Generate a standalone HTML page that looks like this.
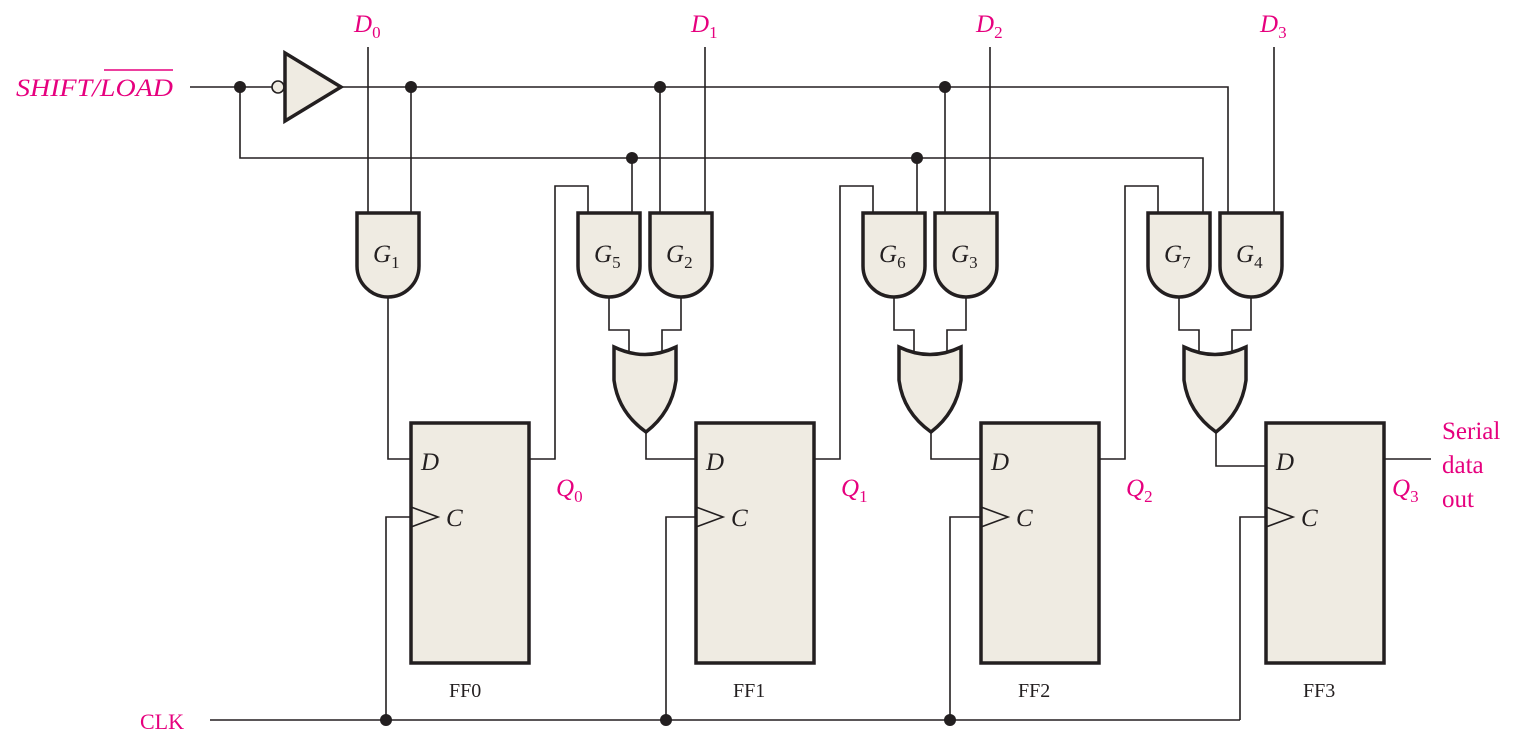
<!DOCTYPE html>
<html><head><style>body{margin:0;background:#fff}svg{display:block}</style></head><body>
<svg width="1531" height="742" viewBox="0 0 1531 742" xmlns="http://www.w3.org/2000/svg">
<defs>
<g id="and"><path d="M0,213 H62 V266 A31,31 0 0 1 0,266 Z" fill="#efebe2" stroke="#231f20" stroke-width="3.5"/></g>
</defs>
<g stroke="#231f20" stroke-width="1.6" fill="none">
<line x1="190" y1="87" x2="272" y2="87"/>
<polyline points="340,87 1228,87 1228,213"/>
<polyline points="240,87 240,158 1203,158 1203,213"/>
<line x1="368" y1="47" x2="368" y2="213"/>
<line x1="705" y1="47" x2="705" y2="213"/>
<line x1="990" y1="47" x2="990" y2="213"/>
<line x1="1274" y1="47" x2="1274" y2="213"/>
<line x1="411" y1="87" x2="411" y2="213"/>
<polyline points="388,297 388,459 411,459"/>
<line x1="660" y1="87" x2="660" y2="213"/>
<line x1="945" y1="87" x2="945" y2="213"/>
<line x1="632" y1="158" x2="632" y2="213"/>
<line x1="917" y1="158" x2="917" y2="213"/>
<polyline points="529,459 555,459 555,186 588,186 588,213"/>
<polyline points="814,459 840,459 840,186 873,186 873,213"/>
<polyline points="1099,459 1125,459 1125,186 1158,186 1158,213"/>
<line x1="1383" y1="459" x2="1431" y2="459"/>
<polyline points="609,297 609,330 629,330 629,355"/>
<polyline points="681,297 681,330 662,330 662,355"/>
<polyline points="894,297 894,330 914,330 914,355"/>
<polyline points="966,297 966,330 947,330 947,355"/>
<polyline points="1179,297 1179,330 1199,330 1199,355"/>
<polyline points="1251,297 1251,330 1232,330 1232,355"/>
<polyline points="646,430 646,459 696,459"/>
<polyline points="931,430 931,459 981,459"/>
<polyline points="1216,430 1216,466 1266,466"/>
<line x1="210" y1="720" x2="1240" y2="720"/>
<polyline points="386,720 386,517 411,517"/>
<polyline points="666,720 666,517 696,517"/>
<polyline points="950,720 950,517 981,517"/>
<polyline points="1240,720 1240,517 1266,517"/>
</g>
<circle cx="278" cy="87" r="6" fill="#efebe2" stroke="#231f20" stroke-width="1.6"/>
<path d="M285,53 L341,87 L285,121 Z" fill="#efebe2" stroke="#231f20" stroke-width="3.5"/>
<use href="#and" x="357"/>
<use href="#and" x="578"/><use href="#and" x="650"/>
<use href="#and" x="863"/><use href="#and" x="935"/>
<use href="#and" x="1148"/><use href="#and" x="1220"/>
<g fill="#efebe2" stroke="#231f20" stroke-width="3.5">
<path d="M614,347 Q645,362 676,347 L676,380 Q672,412 646,432 Q618,412 614,380 Z"/>
<path d="M899,347 Q930,362 961,347 L961,380 Q957,412 931,432 Q903,412 899,380 Z"/>
<path d="M1184,347 Q1215,362 1246,347 L1246,380 Q1242,412 1216,432 Q1188,412 1184,380 Z"/>
<rect x="411" y="423" width="118" height="240"/>
<rect x="696" y="423" width="118" height="240"/>
<rect x="981" y="423" width="118" height="240"/>
<rect x="1266" y="423" width="118" height="240"/>
</g>
<g fill="none" stroke="#231f20" stroke-width="1.6">
<polyline points="411,507 438,517 411,527"/>
<polyline points="696,507 723,517 696,527"/>
<polyline points="981,507 1008,517 981,527"/>
<polyline points="1266,507 1293,517 1266,527"/>
</g>
<g fill="#231f20">
<circle cx="240" cy="87" r="6"/><circle cx="411" cy="87" r="6"/><circle cx="660" cy="87" r="6"/><circle cx="945" cy="87" r="6"/>
<circle cx="632" cy="158" r="6"/><circle cx="917" cy="158" r="6"/>
<circle cx="386" cy="720" r="6"/><circle cx="666" cy="720" r="6"/><circle cx="950" cy="720" r="6"/>
</g>
<g font-family="Liberation Serif, serif" font-size="25" fill="#231f20">
<g font-style="italic">
<text x="373" y="262">G<tspan font-size="17" font-style="normal" dy="6">1</tspan></text>
<text x="594" y="262">G<tspan font-size="17" font-style="normal" dy="6">5</tspan></text>
<text x="666" y="262">G<tspan font-size="17" font-style="normal" dy="6">2</tspan></text>
<text x="879" y="262">G<tspan font-size="17" font-style="normal" dy="6">6</tspan></text>
<text x="951" y="262">G<tspan font-size="17" font-style="normal" dy="6">3</tspan></text>
<text x="1164" y="262">G<tspan font-size="17" font-style="normal" dy="6">7</tspan></text>
<text x="1236" y="262">G<tspan font-size="17" font-style="normal" dy="6">4</tspan></text>
<text x="421" y="470">D</text><text x="706" y="470">D</text><text x="991" y="470">D</text><text x="1276" y="470">D</text>
<text x="446" y="526">C</text><text x="731" y="526">C</text><text x="1016" y="526">C</text><text x="1301" y="526">C</text>
</g>
<g font-size="20">
<text x="449" y="697">FF0</text><text x="733" y="697">FF1</text><text x="1018" y="697">FF2</text><text x="1303" y="697">FF3</text>
</g>
</g>
<g font-family="Liberation Serif, serif" font-size="25" fill="#e6007e">
<g font-style="italic">
<text x="354" y="32">D<tspan font-size="17" font-style="normal" dy="6">0</tspan></text>
<text x="691" y="32">D<tspan font-size="17" font-style="normal" dy="6">1</tspan></text>
<text x="976" y="32">D<tspan font-size="17" font-style="normal" dy="6">2</tspan></text>
<text x="1260" y="32">D<tspan font-size="17" font-style="normal" dy="6">3</tspan></text>
<text x="556" y="496">Q<tspan font-size="17" font-style="normal" dy="6">0</tspan></text>
<text x="841" y="496">Q<tspan font-size="17" font-style="normal" dy="6">1</tspan></text>
<text x="1126" y="496">Q<tspan font-size="17" font-style="normal" dy="6">2</tspan></text>
<text x="1392" y="496">Q<tspan font-size="17" font-style="normal" dy="6">3</tspan></text>
<text x="16" y="96" font-size="25" textLength="157" lengthAdjust="spacingAndGlyphs">SHIFT/LOAD</text>
</g>
<line x1="104" y1="70" x2="173" y2="70" stroke="#e6007e" stroke-width="1.5"/>
<text x="1442" y="439">Serial</text>
<text x="1442" y="473">data</text>
<text x="1442" y="507">out</text>
<text x="140" y="729" font-size="22">CLK</text>
</g>
</svg>
</body></html>
